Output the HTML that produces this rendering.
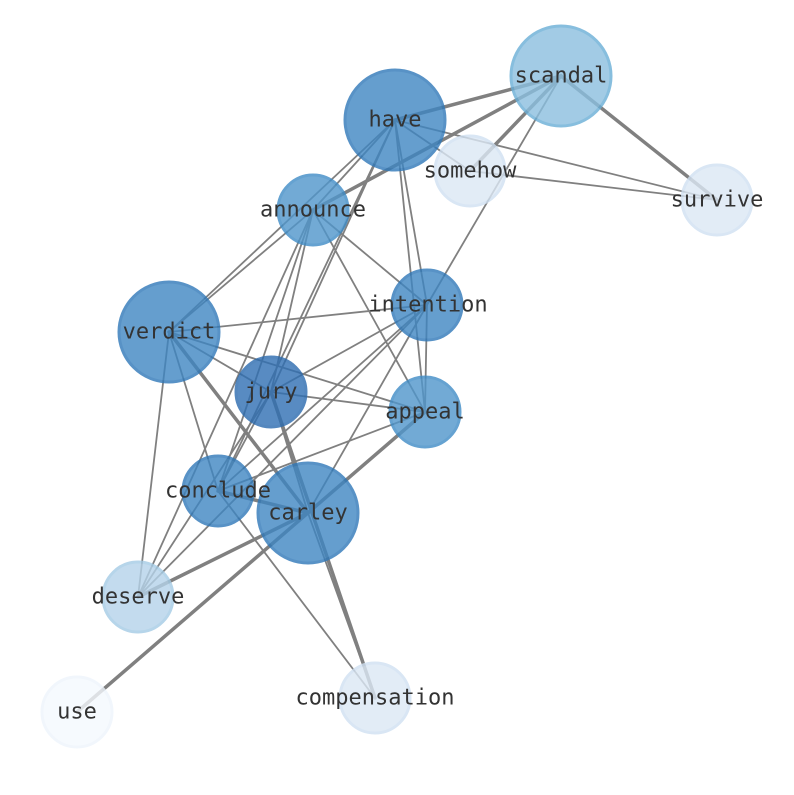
<!DOCTYPE html>
<html><head><meta charset="utf-8"><style>html,body{margin:0;padding:0;background:#fff}</style></head><body>
<svg width="794" height="790" viewBox="0 0 794 790" xmlns="http://www.w3.org/2000/svg">
<g stroke="#808080" stroke-linecap="round" fill="none">
<g stroke-width="1.8">
<line x1="395" y1="120" x2="470" y2="171"/>
<line x1="395" y1="120" x2="717" y2="200"/>
<line x1="470" y1="171" x2="717" y2="200"/>
<line x1="395" y1="120" x2="313" y2="210"/>
<line x1="395" y1="120" x2="169" y2="332"/>
<line x1="395" y1="120" x2="271" y2="392"/>
<line x1="395" y1="120" x2="218" y2="491"/>
<line x1="395" y1="120" x2="427" y2="305"/>
<line x1="395" y1="120" x2="425" y2="412"/>
<line x1="561" y1="76" x2="427" y2="305"/>
<line x1="313" y1="210" x2="169" y2="332"/>
<line x1="313" y1="210" x2="271" y2="392"/>
<line x1="313" y1="210" x2="218" y2="491"/>
<line x1="313" y1="210" x2="427" y2="305"/>
<line x1="313" y1="210" x2="425" y2="412"/>
<line x1="427" y1="305" x2="169" y2="332"/>
<line x1="427" y1="305" x2="271" y2="392"/>
<line x1="427" y1="305" x2="425" y2="412"/>
<line x1="427" y1="305" x2="218" y2="491"/>
<line x1="427" y1="305" x2="308" y2="513"/>
<line x1="427" y1="305" x2="138" y2="597"/>
<line x1="169" y1="332" x2="271" y2="392"/>
<line x1="169" y1="332" x2="425" y2="412"/>
<line x1="169" y1="332" x2="218" y2="491"/>
<line x1="169" y1="332" x2="138" y2="597"/>
<line x1="271" y1="392" x2="425" y2="412"/>
<line x1="271" y1="392" x2="308" y2="513"/>
<line x1="271" y1="392" x2="138" y2="597"/>
<line x1="271" y1="392" x2="218" y2="491"/>
<line x1="425" y1="412" x2="218" y2="491"/>
<line x1="218" y1="491" x2="375" y2="698"/>
<line x1="308" y1="513" x2="375" y2="698"/>
<line x1="313" y1="210" x2="138" y2="597"/>
</g>
<g stroke-width="3.5">
<line x1="395" y1="120" x2="561" y2="76"/>
<line x1="561" y1="76" x2="717" y2="200"/>
<line x1="561" y1="76" x2="313" y2="210"/>
<line x1="561" y1="76" x2="470" y2="171"/>
<line x1="169" y1="332" x2="308" y2="513"/>
<line x1="271" y1="392" x2="375" y2="698"/>
<line x1="425" y1="412" x2="77" y2="712"/>
<line x1="218" y1="491" x2="308" y2="513"/>
<line x1="308" y1="513" x2="138" y2="597"/>
</g>
</g>
<g stroke-width="3" opacity="0.8">
<circle cx="395" cy="120" r="50" fill="#3f86c2" stroke="#2f78b8"/>
<circle cx="561" cy="76" r="50" fill="#8bbfdf" stroke="#6aaed6"/>
<circle cx="470" cy="171" r="35" fill="#dce8f5" stroke="#d0e1f2"/>
<circle cx="717" cy="200" r="35" fill="#dce8f5" stroke="#d0e1f2"/>
<circle cx="313" cy="210" r="35" fill="#5096cb" stroke="#3f8cc6"/>
<circle cx="427" cy="305" r="35" fill="#3f86c2" stroke="#2f78b8"/>
<circle cx="169" cy="332" r="50" fill="#3f86c2" stroke="#2f78b8"/>
<circle cx="271" cy="392" r="35" fill="#2f6fb3" stroke="#2a6aae"/>
<circle cx="425" cy="412" r="35" fill="#5096cb" stroke="#3f8cc6"/>
<circle cx="218" cy="491" r="35" fill="#3f86c2" stroke="#2f78b8"/>
<circle cx="308" cy="513" r="50" fill="#3f86c2" stroke="#2f78b8"/>
<circle cx="138" cy="597" r="35" fill="#b5d3ea" stroke="#a5cbe5"/>
<circle cx="375" cy="698" r="35" fill="#dce8f5" stroke="#d0e1f2"/>
<circle cx="77" cy="712" r="35" fill="#f5f9fe" stroke="#eef5fc"/>
</g>
<g font-family="'DejaVu Sans Mono','Liberation Mono',monospace" font-size="22" fill="#333" text-anchor="middle" dominant-baseline="central">
<text x="395" y="120">have</text>
<text x="561" y="76">scandal</text>
<text x="470" y="171">somehow</text>
<text x="717" y="200">survive</text>
<text x="313" y="210">announce</text>
<text x="428" y="305">intention</text>
<text x="169" y="332">verdict</text>
<text x="271" y="392">jury</text>
<text x="425" y="412">appeal</text>
<text x="218" y="491">conclude</text>
<text x="308" y="513">carley</text>
<text x="138" y="597">deserve</text>
<text x="375" y="698">compensation</text>
<text x="77" y="712">use</text>
</g>
</svg>
</body></html>
